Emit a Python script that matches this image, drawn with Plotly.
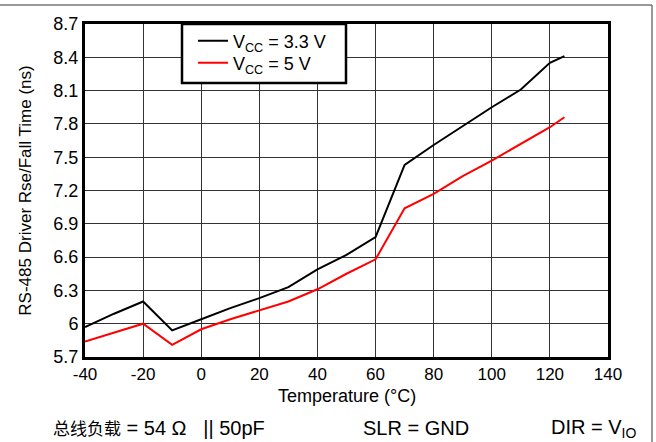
import plotly.graph_objects as go

# Driver rise/fall time vs temperature
temp_c = [-40, -30, -20, -10, 0, 10, 20, 30, 40, 50, 60, 70, 80, 90, 100, 110, 120, 125]
t_vcc33 = [5.97, 6.09, 6.20, 5.94, 6.04, 6.14, 6.23, 6.33, 6.49, 6.62, 6.78, 7.43, 7.61, 7.78, 7.95, 8.11, 8.35, 8.41]
t_vcc5 = [5.84, 5.92, 6.00, 5.81, 5.95, 6.04, 6.12, 6.20, 6.31, 6.45, 6.58, 7.04, 7.17, 7.33, 7.47, 7.62, 7.77, 7.86]

x_ticks = [-40, -20, 0, 20, 40, 60, 80, 100, 120, 140]
x_tick_text = ["-40", "-20", "0", "20", "40", "60", "80", "100", "120", "140"]
y_ticks = [5.7, 6.0, 6.3, 6.6, 6.9, 7.2, 7.5, 7.8, 8.1, 8.4, 8.7]
y_tick_text = ["5.7", "6", "6.3", "6.6", "6.9", "7.2", "7.5", "7.8", "8.1", "8.4", "8.7"]

FONT = "Liberation Sans, Arial, sans-serif"
W, H = 656, 442
L, R, T, B = 85, 48, 24, 85
PW, PH = W - L - R, H - T - B


def px_x(px):
    return (px - L) / PW


def px_y(py):
    return (H - B - py) / PH


fig = go.Figure()
fig.add_trace(go.Scatter(x=temp_c, y=t_vcc33, mode="lines",
                         name="V<sub>CC</sub> = 3.3 V", legend="legend",
                         line=dict(color="black", width=2)))
fig.add_trace(go.Scatter(x=temp_c, y=t_vcc5, mode="lines",
                         name="V<sub>CC</sub> = 5 V", legend="legend2",
                         line=dict(color="#ff0000", width=2)))

legend_style = dict(
    xanchor="left", yanchor="middle",
    bgcolor="rgba(0,0,0,0)", borderwidth=0,
    font=dict(family=FONT, size=18), itemwidth=30,
)

fig.update_layout(
    width=W, height=H,
    margin=dict(l=L, r=R, t=T, b=B),
    paper_bgcolor="white", plot_bgcolor="white",
    font=dict(family=FONT, size=18, color="black"),
    showlegend=True,
    legend=dict(x=px_x(193), y=px_y(41), **legend_style),
    legend2=dict(x=px_x(193), y=px_y(63), **legend_style),
    xaxis=dict(
        range=[-40, 140], tickvals=x_ticks, ticktext=x_tick_text,
        showgrid=True, gridcolor="#333333", gridwidth=1,
        showline=True, linecolor="black", linewidth=3, mirror=True,
        ticks="", zeroline=False, ticklabelstandoff=0,
        tickfont=dict(family=FONT, size=17),
    ),
    yaxis=dict(
        range=[5.7, 8.7], tickvals=y_ticks, ticktext=y_tick_text,
        showgrid=True, gridcolor="#333333", gridwidth=1,
        showline=True, linecolor="black", linewidth=3, mirror=True,
        ticks="", zeroline=False,
        tickfont=dict(family=FONT, size=18),
        title=dict(text="RS-485 Driver Rse/Fall Time (ns)", font=dict(family=FONT, size=17), standoff=18),
    ),
)

# x-axis title, set tight under the tick labels
fig.add_annotation(text="Temperature (°C)", xref="paper", yref="paper",
                   x=0.5, y=px_y(396), xanchor="center", yanchor="middle",
                   showarrow=False, font=dict(family=FONT, size=18, color="black"))

# legend frame
fig.add_shape(type="rect", xref="paper", yref="paper", layer="above",
              x0=px_x(182), x1=px_x(346), y0=px_y(83), y1=px_y(24),
              fillcolor="white", line=dict(color="black", width=2.5))

# outer page rules
fig.add_shape(type="line", xref="paper", yref="paper",
              x0=px_x(0), x1=px_x(652), y0=px_y(5), y1=px_y(5),
              line=dict(color="#777777", width=1.5))
fig.add_shape(type="line", xref="paper", yref="paper",
              x0=px_x(652), x1=px_x(652), y0=px_y(H), y1=px_y(5),
              line=dict(color="#777777", width=1.5))

# test conditions
notes = [
    ("<span style='font-size:17px'>总线负载</span> = 54 Ω\u00a0\u00a0\u00a0|| 50pF", 51),
    ("SLR = GND", 361),
    ("DIR = V<sub>IO</sub>", 549),
]
for text, px in notes:
    fig.add_annotation(text=text, xref="paper", yref="paper",
                       x=px_x(px), y=px_y(428),
                       xanchor="left", yanchor="middle", showarrow=False,
                       font=dict(family="Liberation Sans, Noto Sans CJK SC, sans-serif", size=20, color="black"))

fig.write_html("out.html")
